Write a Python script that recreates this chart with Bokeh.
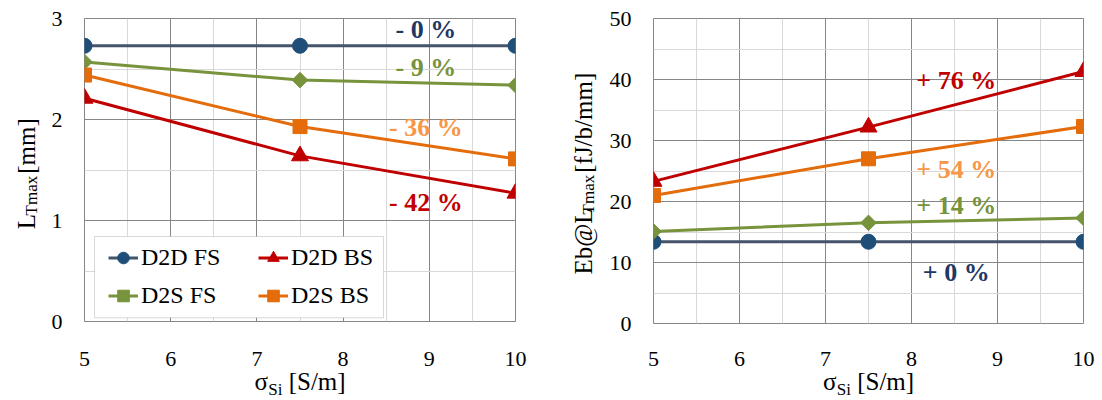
import math
from bokeh.plotting import figure
from bokeh.layouts import row, column
from bokeh.models import FixedTicker, Legend, LegendItem, BoxAnnotation
from bokeh.core.properties import value
from bokeh.embed import file_html
from bokeh.resources import INLINE

# ---------------- data ----------------
sigma_si = [5, 7.5, 10]
series_names = ["D2D FS", "D2D BS", "D2S FS", "D2S BS"]

lt_d2d_fs = [2.73, 2.73, 2.73]
lt_d2d_bs = [2.21, 1.64, 1.27]
lt_d2s_fs = [2.57, 2.39, 2.34]
lt_d2s_bs = [2.44, 1.93, 1.61]

eb_d2d_fs = [13.4, 13.4, 13.4]
eb_d2d_bs = [23.3, 32.2, 41.3]
eb_d2s_fs = [15.1, 16.5, 17.3]
eb_d2s_bs = [21.0, 27.0, 32.3]

left_pct_text = ["- 0 %", "- 42 %", "- 9 %", "- 36 %"]
right_pct_text = ["+ 0 %", "+ 76 %", "+ 14 %", "+ 54 %"]

x_ticks = [5, 6, 7, 8, 9, 10]
x_minor = [5.5, 6.5, 7.5, 8.5, 9.5]
left_y_ticks = [0, 1, 2, 3]
left_y_minor = [0.5, 1.5, 2.5]
right_y_ticks = [0, 10, 20, 30, 40, 50]
right_y_minor = [5, 15, 25, 35, 45]

x_title = ["σ", "Si", "[S/m]"]
left_y_title = ["L", "Tmax", "[mm]"]
right_y_title = ["Eb@L", "Tmax", "[fJ/b/mm]"]

# ---------------- styles / annotation placement ----------------
FONT = "Liberation Serif"
line_colors = ["#44546A", "#C00000", "#77933C", "#E46C0A"]
marker_colors = ["#1F4E79", "#C00000", "#77933C", "#E46C0A"]
marker_types = ["circle", "triangle", "square", "square"]
marker_sizes = [15, 17, 11, 14]
marker_angles = [0, 0, math.pi / 4, 0]
label_colors = ["#1F3864", "#C00000", "#77933C", "#F79646"]

left_lbl_x = [8.96, 8.96, 8.96, 8.96]
left_lbl_y = [2.81, 1.10, 2.44, 1.84]
right_lbl_x = [8.52, 8.52, 8.52, 8.52]
right_lbl_y = [7.0, 38.5, 18.0, 23.9]
LBL_YOFF = -8  # px, compensates baseline placement

PAGE_H = 399
XFRAME_TOP = 365


def style_ticks(ax):
    ax.axis_line_color = None
    ax.major_tick_line_color = None
    ax.minor_tick_line_color = None
    ax.major_tick_out = 0
    ax.major_tick_in = 0
    ax.minor_tick_out = 0
    ax.minor_tick_in = 0
    ax.major_label_text_font = FONT
    ax.major_label_text_font_size = "22px"
    ax.major_label_text_color = "black"


def make_chart(width, height, bl, br, ys, yticks, yminor, ymax, lbl_x, lbl_y, lbl_text):
    p = figure(width=width, height=height, x_range=(5, 10), y_range=(0, ymax),
               output_backend="svg", toolbar_location=None,
               min_border_left=bl, min_border_right=br,
               min_border_top=18, min_border_bottom=13)
    p.background_fill_color = "white"
    p.border_fill_color = "white"
    p.outline_line_color = "#868686"
    p.outline_line_width = 1

    p.xaxis.visible = False
    p.yaxis.ticker = FixedTicker(ticks=yticks, minor_ticks=yminor)
    style_ticks(p.yaxis)
    p.yaxis.major_label_standoff = 22

    p.xgrid.ticker = FixedTicker(ticks=x_ticks, minor_ticks=x_minor)
    p.ygrid.ticker = FixedTicker(ticks=yticks, minor_ticks=yminor)
    for g in (p.xgrid, p.ygrid):
        g.grid_line_color = "#868686"
        g.grid_line_width = 1
        g.minor_grid_line_color = "#D9D9D9"
        g.minor_grid_line_width = 1

    items = {}
    for i, name in enumerate(series_names):
        r1 = p.line(sigma_si, ys[i], line_color=line_colors[i], line_width=3)
        r2 = p.scatter(sigma_si, ys[i], marker=marker_types[i], size=marker_sizes[i],
                       angle=marker_angles[i], fill_color=marker_colors[i],
                       line_color=marker_colors[i])
        items[name] = LegendItem(label=name, renderers=[r1, r2])

    p.text(x=lbl_x, y=lbl_y, text=lbl_text, text_color=label_colors,
           text_font=value(FONT), text_font_style="bold", text_font_size="26px",
           text_align="center", text_baseline="alphabetic", y_offset=LBL_YOFF)
    return p, items


def x_fig(chart, width, bl, br):
    top = chart.height
    h = PAGE_H - top
    fh = PAGE_H - XFRAME_TOP
    f = figure(width=width, height=h, x_range=chart.x_range, y_range=(0, fh),
               x_axis_location="above", y_axis_type=None, output_backend="svg",
               toolbar_location=None, min_border_left=bl, min_border_right=br,
               min_border_top=XFRAME_TOP - top, min_border_bottom=0)
    f.outline_line_color = None
    f.background_fill_color = "white"
    f.border_fill_color = "white"
    f.xgrid.visible = False
    f.xaxis.ticker = FixedTicker(ticks=x_ticks)
    style_ticks(f.xaxis)
    f.xaxis.major_label_standoff = 0
    # title pieces: main baseline ~389, subscript ~394 (page px)
    kw = dict(text_font=value(FONT), text_color="black", text_align="left",
              text_baseline="alphabetic")
    f.text(x=[7.5], y=[PAGE_H - 381], text=[x_title[0]], x_offset=-45.6,
           text_font_size="25px", **kw)
    f.text(x=[7.5], y=[PAGE_H - 388.5], text=[x_title[1]], x_offset=-31.8,
           text_font_size="17px", **kw)
    f.text(x=[7.5], y=[PAGE_H - 381], text=[x_title[2]], x_offset=-11.3,
           text_font_size="25px", **kw)
    return f


def text_fig(w, h):
    f = figure(width=w, height=h, x_range=(0, w), y_range=(0, h),
               x_axis_type=None, y_axis_type=None, output_backend="svg",
               toolbar_location=None, min_border=0)
    f.outline_line_color = None
    f.background_fill_color = "white"
    f.border_fill_color = "white"
    return f


def put(f, x, y, txt, size, angle=0):
    f.text(x=[x], y=[y], text=[txt], text_font=value(FONT), text_font_size=size,
           text_color="black", angle=angle, text_align="left",
           text_baseline="alphabetic")


def y_title_fig(w, h, bx, y0, parts, w0):
    f = text_fig(w, h)
    a = math.pi / 2
    put(f, bx, y0, parts[0], "25px", a)
    put(f, bx + 5, y0 + w0, parts[1], "17px", a)
    put(f, bx, y0 + w0 + 39.7 + 6.25, parts[2], "25px", a)
    return f


LH = 334  # left chart height (frame 18..321)
RH = 336  # right chart height (frame 18..323)

left, litems = make_chart(520, LH, 44, 45,
                          [lt_d2d_fs, lt_d2d_bs, lt_d2s_fs, lt_d2s_bs],
                          left_y_ticks, left_y_minor, 3,
                          left_lbl_x, left_lbl_y, left_pct_text)
right, _ = make_chart(500, RH, 53, 17,
                      [eb_d2d_fs, eb_d2d_bs, eb_d2s_fs, eb_d2s_bs],
                      right_y_ticks, right_y_minor, 50,
                      right_lbl_x, right_lbl_y, right_pct_text)

# legend box + two legend columns
left.add_layout(BoxAnnotation(left=10, right=299, bottom=3.7, top=85,
                              left_units="screen", right_units="screen",
                              top_units="screen", bottom_units="screen",
                              fill_color="white", fill_alpha=1,
                              line_color="#808080", line_width=1))
legend_kw = dict(label_text_font=FONT, label_text_font_size="24px",
                 label_text_color="black", glyph_width=30, glyph_height=29,
                 label_height=29, label_standoff=3, spacing=9, padding=0,
                 margin=0, border_line_color=None, background_fill_alpha=0)
leg1 = Legend(items=[litems["D2D FS"], litems["D2S FS"]], location=(24, 11.5), **legend_kw)
leg2 = Legend(items=[litems["D2D BS"], litems["D2S BS"]], location=(174, 11.5), **legend_kw)
left.add_layout(leg1, "center")
left.add_layout(leg2, "center")

ylab_left = y_title_fig(40, LH, 25.5, LH - 232.4, left_y_title, 15.3)
ylab_right = y_title_fig(40, RH, 22.5, RH - 282, right_y_title, 66.1)
xlab_left = x_fig(left, 560, 84, 45)
xlab_right = x_fig(right, 540, 93, 17)

layout = row(column(row(ylab_left, left), xlab_left),
             column(row(ylab_right, right), xlab_right))
open("out.html", "w").write(file_html(layout, INLINE))
